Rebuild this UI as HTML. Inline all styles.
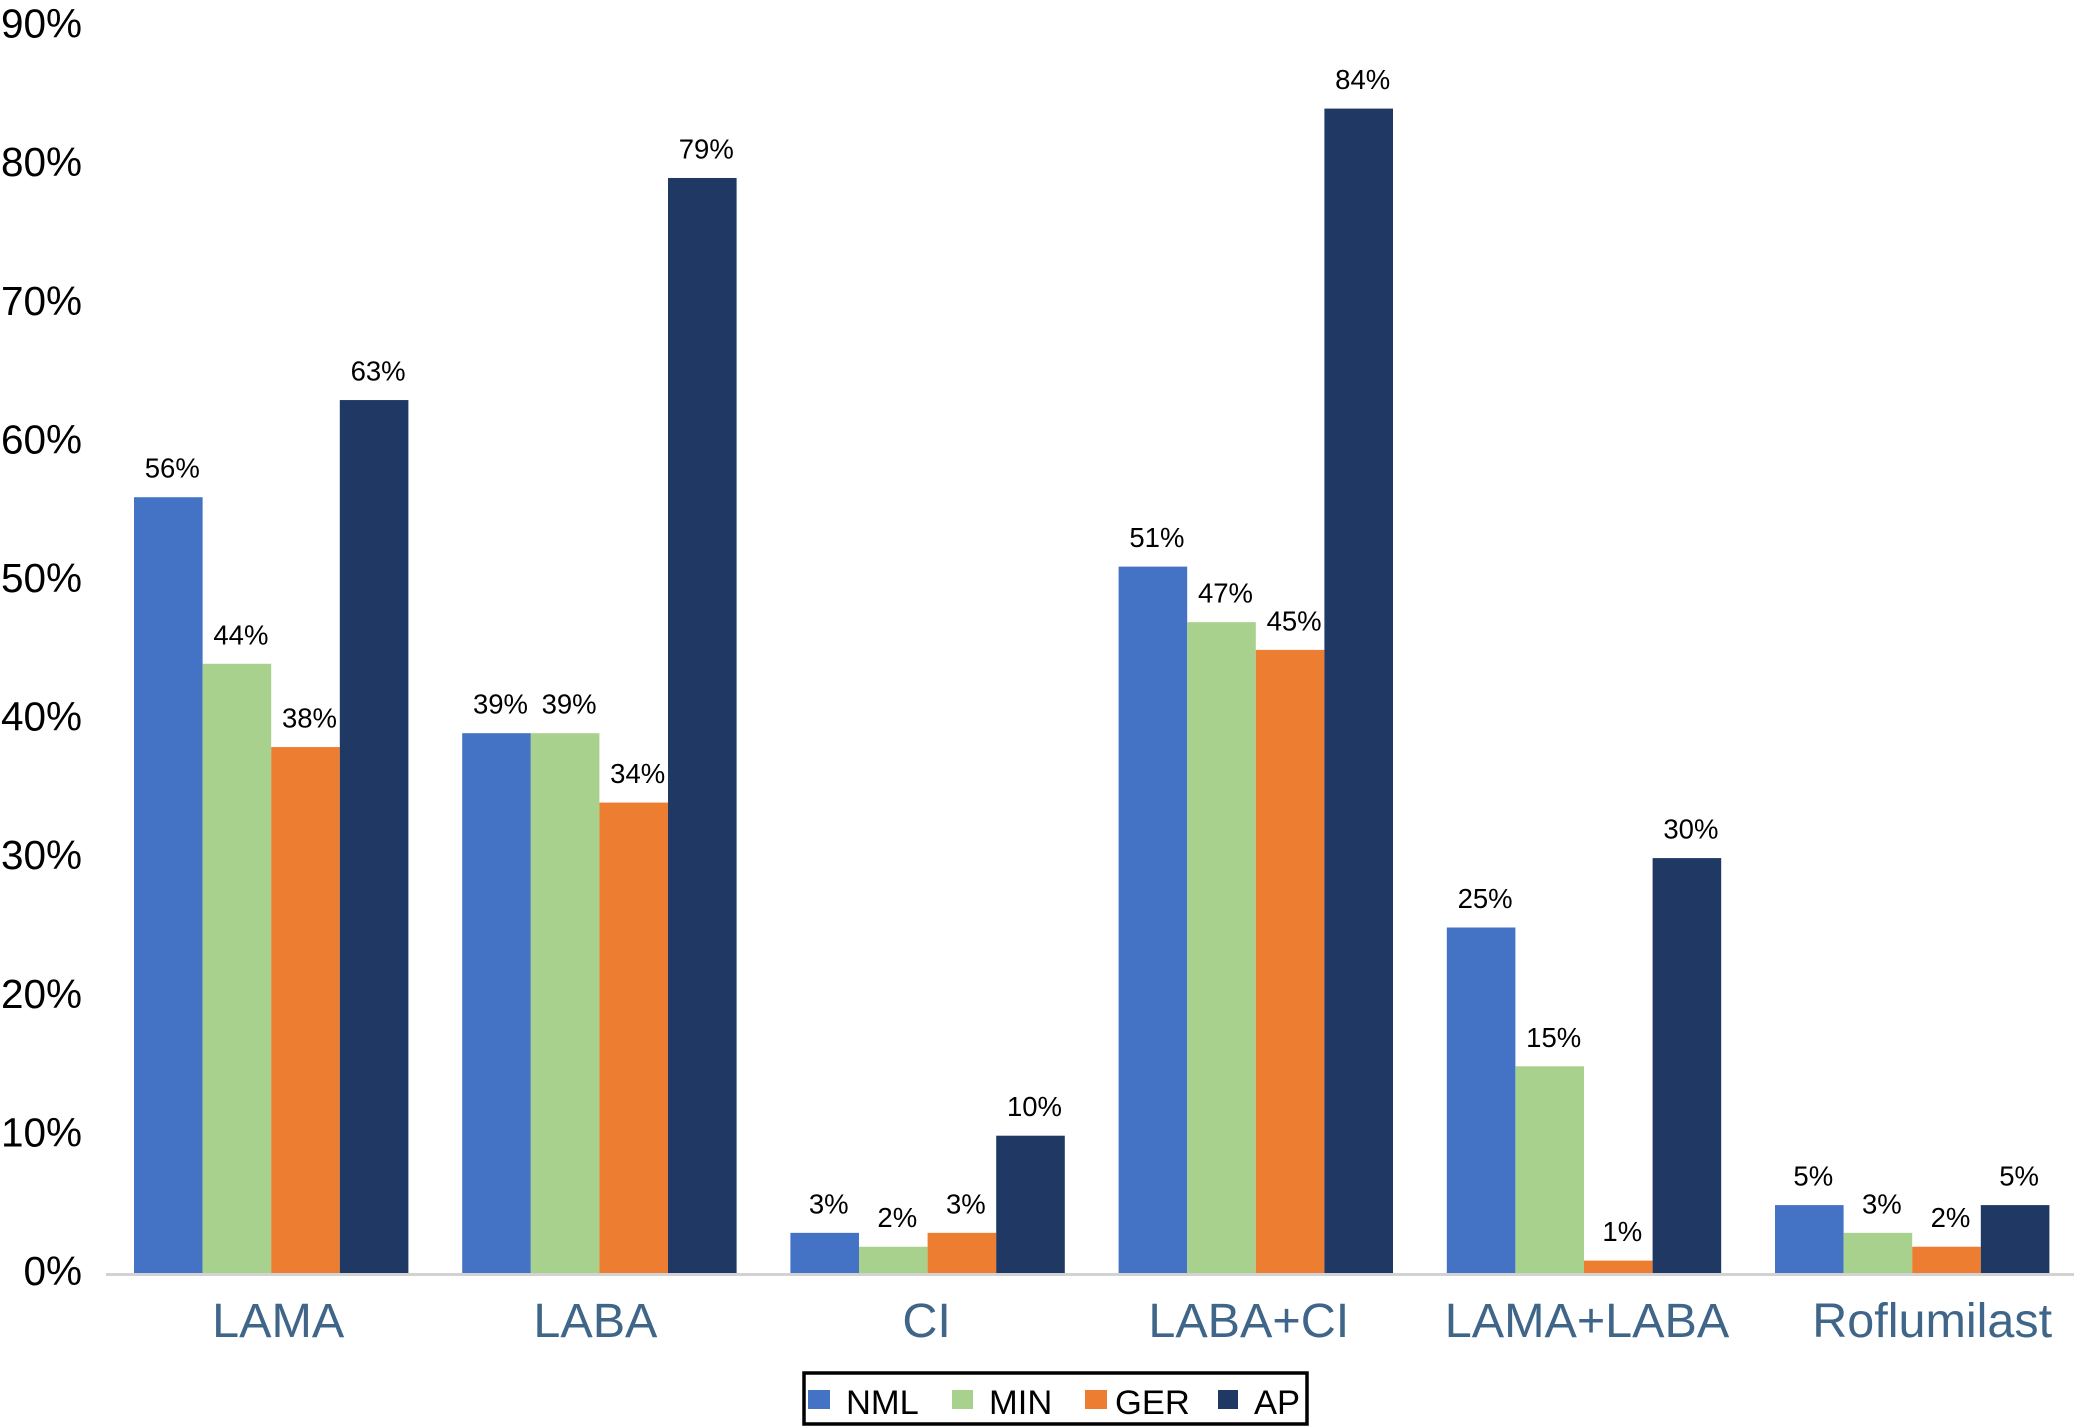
<!DOCTYPE html>
<html lang="en">
<head>
<meta charset="utf-8">
<title>Bar chart of medication use by group</title>
<style>
  html, body { margin: 0; padding: 0; background: #ffffff; }
  body { width: 2082px; height: 1426px; overflow: hidden; }
  svg { display: block; font-family: "Liberation Sans", Arial, sans-serif; }
</style>
</head>
<body>
<svg id="chart" xmlns="http://www.w3.org/2000/svg" width="2082" height="1426" viewBox="0 0 2082 1426">
  <rect x="0" y="0" width="2082" height="1426" fill="#ffffff"/>
  <g id="y-axis"></g>
  <g id="bars"></g>
  <rect x="106" y="1273" width="1968" height="3" fill="#d2d2d2"/>
  <g id="x-axis"></g>
  <g>
    <rect x="804" y="1373" width="503" height="51" fill="#ffffff" stroke="#000000" stroke-width="3.5"/>
    <rect x="808" y="1390" width="22" height="19" fill="#4472c4"/>
    <text x="846" y="1414" font-size="34.5" fill="#000000">NML</text>
    <rect x="952" y="1390" width="21" height="19" fill="#a9d18e"/>
    <text x="989" y="1414" font-size="34.5" fill="#000000">MIN</text>
    <rect x="1085" y="1390" width="22" height="19" fill="#ed7d31"/>
    <text x="1115" y="1414" font-size="34.5" fill="#000000">GER</text>
    <rect x="1218" y="1390" width="20" height="19" fill="#1f3864"/>
    <text x="1254" y="1414" font-size="34.5" fill="#000000">AP</text>
  </g>
</svg>
<script>
const categories = ["LAMA", "LABA", "CI", "LABA+CI", "LAMA+LABA", "Roflumilast"];
const seriesNames = ["NML", "MIN", "GER", "AP"];
const nmlValues = [56, 39, 3, 51, 25, 5];
const minValues = [44, 39, 2, 47, 15, 3];
const gerValues = [38, 34, 3, 45, 1, 2];
const apValues = [63, 79, 10, 84, 30, 5];
const yTicks = [0, 10, 20, 30, 40, 50, 60, 70, 80, 90];

const seriesValues = [nmlValues, minValues, gerValues, apValues];
const seriesColors = ["#4472c4", "#a9d18e", "#ed7d31", "#1f3864"];
const SVG_NS = "http://www.w3.org/2000/svg";

function yScale(v) { return 1274.5 - v * 13.88; }
function xBar(cat, ser) { return 134 + cat * 328.2 + ser * 68.6; }
function xCategory(cat) { return xBar(cat, 2); }

function make(tag, parent, attrs, text) {
  const el = document.createElementNS(SVG_NS, tag);
  for (const k in attrs) el.setAttribute(k, attrs[k]);
  if (text !== undefined) el.textContent = text;
  parent.appendChild(el);
  return el;
}
function slug(s) { return s.toLowerCase().replace(/[^a-z0-9]+/g, "-"); }

const yAxis = document.getElementById("y-axis");
yTicks.forEach(function (t) {
  const el = make("text", yAxis, { x: 82, y: yScale(t) + 10.5 + t * 0.02, "text-anchor": "end", "font-size": 40.5, fill: "#000000" }, t + "%");
  
  
});

const barsGroup = document.getElementById("bars");
seriesValues.forEach(function (vals, s) {
  vals.forEach(function (v, c) {
    const x = xBar(c, s);
    const w = xBar(c, s + 1) - x;
    const top = yScale(v);
    const bar = make("rect", barsGroup, { x: x, y: top, width: w, height: yScale(0) - top, fill: seriesColors[s] });
    
    
    const label = make("text", barsGroup, { x: x + w / 2 + 4, y: top - 19.5, "text-anchor": "middle", "font-size": 27.5, fill: "#000000" }, v + "%");
    
    
  });
});

const labelNudge = [7, -4, -1, -7, 3, 20];
const xAxis = document.getElementById("x-axis");
categories.forEach(function (name, c) {
  const el = make("text", xAxis, { x: xCategory(c) + labelNudge[c], y: 1337, "text-anchor": "middle", "font-size": 48.5, fill: "#3f6589" }, name);
  
  
});
</script>
</body>
</html>
